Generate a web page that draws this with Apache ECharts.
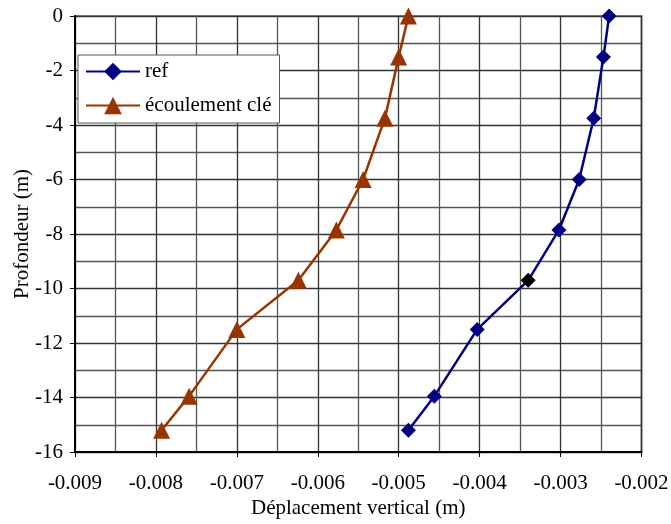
<!DOCTYPE html>
<html><head><meta charset="utf-8">
<script src="https://cdn.jsdelivr.net/npm/echarts@6/dist/echarts.min.js"></script>
<style>html,body{margin:0;padding:0;background:#fff}#c{width:671px;height:524px}</style>
</head><body><div id="c"></div>
<script>
const depths = [0, -1.5, -3.75, -6, -7.85, -9.7, -11.5, -13.95, -15.2];
const refX = [-0.00240, -0.00247, -0.00259, -0.00277, -0.00302, -0.00340, -0.00403, -0.00456, -0.00488];
const ecoX = [-0.00488, -0.00500, -0.00517, -0.00544, -0.00577, -0.00624, -0.00700, -0.00759, -0.00793];
const seriesNames = ['ref', 'écoulement clé'];
const xTitle = 'Déplacement vertical (m)';
const yTitle = 'Profondeur (m)';

const font = 'Liberation Serif';
const fs = 21;
const refData = refX.map((x, i) => {
  const p = { value: [x, depths[i]] };
  if (i === 5) p.itemStyle = { color: '#000' };
  return p;
});
const ecoData = ecoX.map((x, i) => [x, depths[i]]);

const chart = echarts.init(document.getElementById('c'));
chart.setOption({
  animation: false,
  backgroundColor: '#fff',
  textStyle: { fontFamily: font, color: '#000' },
  grid: { left: 75, right: 29.5, top: 16, bottom: 72, outerBoundsMode: 'none', containLabel: false,
    show: true, borderColor: '#888', borderWidth: 2, backgroundColor: 'transparent' },
  legend: {
    orient: 'vertical', left: 78, top: 55,
    backgroundColor: '#fff', borderColor: '#555', borderWidth: 1,
    padding: [6, 8, 7, 7], itemGap: 13, itemWidth: 54, itemHeight: 22,
    textStyle: { fontFamily: font, fontSize: fs, color: '#000' },
    data: seriesNames
  },
  xAxis: {
    type: 'value', min: -0.009, max: -0.002, interval: 0.001,
    name: xTitle, nameLocation: 'middle', nameGap: 46, nameMoveOverlap: false,
    nameTextStyle: { fontFamily: font, fontSize: fs, color: '#000' },
    axisLine: { onZero: false, lineStyle: { color: '#000', width: 2 } },
    axisTick: { show: true, inside: false, length: 5, lineStyle: { color: '#000' } },
    axisLabel: { fontFamily: font, fontSize: fs, color: '#000', margin: 21,
      formatter: v => (Math.round(v * 1000) / 1000).toFixed(3) },
    splitLine: { show: true, lineStyle: { color: '#333', width: 1.3 } },
    minorTick: { show: false, splitNumber: 2 },
    minorSplitLine: { show: true, lineStyle: { color: '#555', width: 1.3 } }
  },
  yAxis: {
    type: 'value', min: -16, max: 0, interval: 2,
    name: yTitle, nameLocation: 'middle', nameGap: 42, nameRotate: 90, nameMoveOverlap: false,
    nameTextStyle: { fontFamily: font, fontSize: fs, color: '#000' },
    axisLine: { onZero: false, lineStyle: { color: '#000', width: 2 } },
    axisTick: { show: true, inside: false, length: 5, lineStyle: { color: '#000' } },
    axisLabel: { fontFamily: font, fontSize: fs, color: '#000', margin: 12 },
    splitLine: { show: true, lineStyle: { color: '#333', width: 1.3 } },
    minorTick: { show: false, splitNumber: 2 },
    minorSplitLine: { show: true, lineStyle: { color: '#555', width: 1.3 } }
  },
  series: [
    {
      name: seriesNames[0], type: 'line', data: refData,
      symbol: 'diamond', symbolSize: 15,
      lineStyle: { color: '#000080', width: 2.5 },
      itemStyle: { color: '#000080' },
      z: 3
    },
    {
      name: seriesNames[1], type: 'line', data: ecoData,
      symbol: 'triangle', symbolSize: 17,
      lineStyle: { color: '#993300', width: 2.5 },
      itemStyle: { color: '#993300' },
      z: 3
    }
  ]
});
</script></body></html>
